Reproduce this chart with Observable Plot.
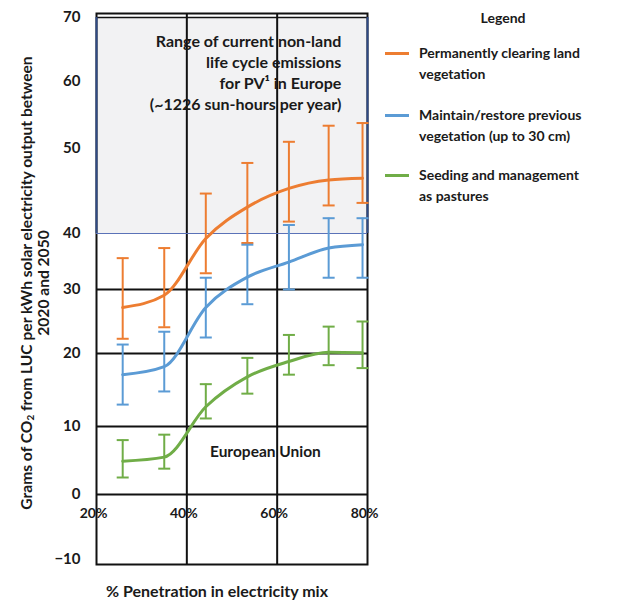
<!DOCTYPE html>
<html>
<head>
<meta charset="utf-8">
<script src="https://cdn.jsdelivr.net/npm/d3@7"></script>
<script src="https://cdn.jsdelivr.net/npm/@observablehq/plot@0.6"></script>
<style>
  html, body { margin: 0; padding: 0; background: #fff; }
  #wrap { position: relative; width: 621px; height: 601px; font-family: Lato, "Open Sans", sans-serif; font-weight: bold; color: #1a1a1a; }
  #wrap svg { position: absolute; left: 0; top: 0; }
  .ytitle { position: absolute; left: 35px; top: 283px; width: 560px; transform: translate(-50%, -50%) rotate(-90deg); text-align: center; font-size: 15.6px; line-height: 17px; white-space: nowrap; }
  .ytitle sub { font-size: 10px; vertical-align: -2px; line-height: 0; }
  .xtitle { position: absolute; left: 217px; top: 590px; transform: translate(-50%, -50%); font-size: 16px; white-space: nowrap; }
  .legend-title { position: absolute; left: 503px; top: 17px; transform: translate(-50%, -50%); font-size: 14px; }
  .item { position: absolute; left: 385px; font-size: 14px; line-height: 20.5px; }
  .item .sw { position: absolute; left: 0; top: 9px; width: 24px; height: 2.5px; }
  .item .tx { position: absolute; left: 34px; top: 0; white-space: nowrap; }
</style>
</head>
<body>
<div id="wrap"></div>
<script>
// ---- data ----
const penetration = [25.8, 35, 44.2, 53.4, 62.6, 71.4, 78.9];
const seriesNames = [
  "Permanently clearing land vegetation",
  "Maintain/restore previous vegetation (up to 30 cm)",
  "Seeding and management as pastures"
];
const clearingMid = [27.2, 29.1, 39.1, 43.1, 45.3, 46.3, 46.5];
const clearingLow = [22.3, 24.1, 32.9, 38.3, 41.4, 43.3, 43.6];
const clearingHigh = [35.6, 37.4, 44.7, 48.3, 51.0, 53.4, 53.8];
const restoreMid = [17.1, 18.2, 27.2, 32.2, 34.9, 37.4, 38.0];
const restoreLow = [13.0, 14.8, 22.5, 27.7, 30.0, 32.1, 32.1];
const restoreHigh = [21.4, 23.4, 32.1, 38.0, 41.0, 41.8, 41.8];
const pastureMid = [4.9, 5.5, 12.7, 16.8, 18.9, 20.2, 20.1];
const pastureLow = [2.5, 3.8, 11.1, 14.5, 17.1, 18.4, 18.0];
const pastureHigh = [8.0, 8.8, 15.8, 19.4, 22.9, 24.2, 25.0];
const yTicks = [-10, 0, 10, 20, 30, 40, 50, 60, 70];
const xTicks = [20, 40, 60, 80];
const xTickLabels = ["20%", "40%", "60%", "80%"];
const gridY = [0, 10, 20, 30];
const gridX = [40, 60];
const pvRange = [40, 70];
const rangeNote = "Range of current non-land\nlife cycle emissions\nfor PV\u00b9 in Europe\n(~1226 sun-hours per year)";
const regionNote = "European Union";

const colors = ["#ed7d31", "#5b9bd5", "#70ad47"];

// ---- build table ----
const mids = [clearingMid, restoreMid, pastureMid];
const lows = [clearingLow, restoreLow, pastureLow];
const highs = [clearingHigh, restoreHigh, pastureHigh];
const rows = [];
seriesNames.forEach((s, i) => penetration.forEach((p, j) => rows.push({
  series: s, x: p, y: mids[i][j], lo: lows[i][j], hi: highs[i][j]
})));

// the original axis is unevenly spaced: piecewise warp of the value axis
const warp = d3.scaleLinear()
  .domain([-10.7, -10, 0, 10, 20, 30, 40, 50, 60, 70, 70.6])
  .range([0, 5, 70, 138, 211, 275, 331, 416, 483, 547, 551]);

const cap = { draw(ctx, size) { const w = Math.sqrt(size / Math.PI); ctx.moveTo(-w, 0); ctx.lineTo(w, 0); } };

const chart = Plot.plot({
  width: 621,
  height: 601,
  marginLeft: 96,
  marginRight: 254,
  marginTop: 13,
  marginBottom: 37,
  style: { fontFamily: "Lato, 'Open Sans', sans-serif", fontWeight: "bold", fontSize: "14px", color: "#1a1a1a", background: "transparent" },
  x: { domain: [20, 80], axis: null },
  y: { transform: warp, domain: [0, 551], axis: null },
  color: { domain: seriesNames, range: colors },
  marks: [
    Plot.rect([pvRange], { y1: d => d[0], y2: d => d[1], fill: "#f2f2f3" }),
    Plot.ruleY(gridY, { stroke: "#111", strokeWidth: 2 }),
    Plot.ruleX(gridX, { stroke: "#111", strokeWidth: 2 }),
    Plot.frame({ stroke: "#111", strokeWidth: 2 }),
    Plot.ruleY([pvRange[1]], { stroke: "#111", strokeWidth: 1.5 }),
    Plot.ruleX([xTicks[0], xTicks[3]], { y1: pvRange[0], y2: pvRange[1], stroke: "#2f4a85", strokeWidth: 2 }),
    Plot.ruleY([pvRange[0]], { stroke: "#5a72b8", strokeWidth: 1.2 }),
    Plot.axisY(yTicks, { tickSize: 0, tickPadding: 16, fontSize: 15, fontWeight: "bold" }),
    Plot.text(xTicks, { x: d => d, text: (d, i) => xTickLabels[i], frameAnchor: "bottom", dy: -47, dx: -3, fontSize: 14, fontWeight: "bold" }),
    Plot.text([rangeNote], { x: 74.2, y: 61.5, text: d => d, textAnchor: "end", lineHeight: 1.3, fontSize: 16, fontWeight: "bold" }),
    Plot.text([regionNote], { x: 57.4, y: 6.2, text: d => d, fontSize: 15.5, fontWeight: "bold" }),
    Plot.ruleX(rows, { x: "x", y1: "lo", y2: "hi", stroke: "series", strokeWidth: 2 }),
    Plot.dot(rows, { x: "x", y: "lo", symbol: cap, r: 6, stroke: "series", strokeWidth: 2 }),
    Plot.dot(rows, { x: "x", y: "hi", symbol: cap, r: 6, stroke: "series", strokeWidth: 2 }),
    Plot.line(rows, { x: "x", y: "y", z: "series", stroke: "series", strokeWidth: 3, curve: "monotone-x" })
  ]
});

const wrap = document.getElementById("wrap");
wrap.appendChild(chart);

const yt = document.createElement("div");
yt.className = "ytitle";
yt.innerHTML = "Grams of CO<sub>2</sub> from LUC per kWh solar electricity output between<br>2020 and 2050";
wrap.appendChild(yt);

const xt = document.createElement("div");
xt.className = "xtitle";
xt.textContent = "% Penetration in electricity mix";
wrap.appendChild(xt);

const lt = document.createElement("div");
lt.className = "legend-title";
lt.textContent = "Legend";
wrap.appendChild(lt);

const legendLines = [
  ["Permanently clearing land", "vegetation"],
  ["Maintain/restore previous", "vegetation (up to 30 cm)"],
  ["Seeding and management", "as pastures"]
];
const legendTops = [43, 105, 165];
seriesNames.forEach((s, i) => {
  const it = document.createElement("div");
  it.className = "item";
  it.style.top = legendTops[i] + "px";
  it.innerHTML = `<div class="sw" style="background:${colors[i]}"></div><div class="tx">${legendLines[i][0]}<br>${legendLines[i][1]}</div>`;
  wrap.appendChild(it);
});
</script>
</body>
</html>
